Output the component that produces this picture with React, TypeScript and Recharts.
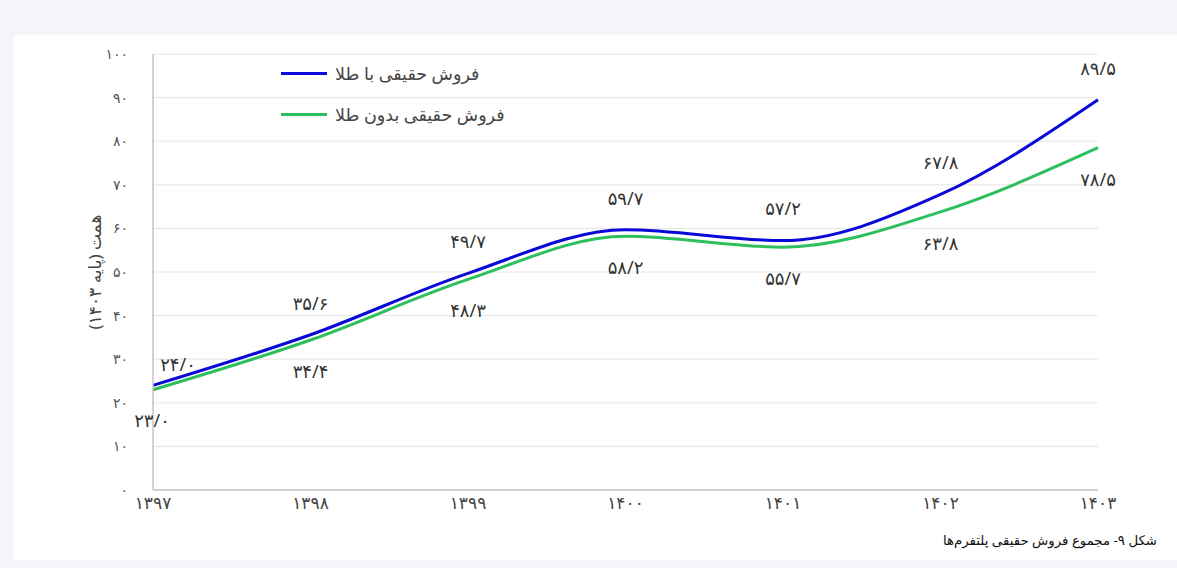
import React from "react";
import { LineChart, Line, XAxis, YAxis, CartesianGrid, LabelList } from "recharts";

const years = ["1397", "1398", "1399", "1400", "1401", "1402", "1403"];
const withGold = [24.0, 35.6, 49.7, 59.7, 57.2, 67.8, 89.5];
const withoutGold = [23.0, 34.4, 48.3, 58.2, 55.7, 63.8, 78.5];
const yTicks = [0, 10, 20, 30, 40, 50, 60, 70, 80, 90, 100];

const data = years.map((y, i) => ({ year: y, gold: withGold[i], noGold: withoutGold[i] }));

const FONT = "'Noto Sans', 'DejaVu Sans', sans-serif";
const BLUE = "#0a0ad8";
const GREEN = "#2cbf5b";

function fa(s: string) {
  return s.replace(/\d/g, (d) => "۰۱۲۳۴۵۶۷۸۹"[Number(d)]);
}

function fmt(v: number) {
  return fa(v.toFixed(1).replace(".", "/"));
}

function makeLabel(above: boolean) {
  return (props: any) => {
    const { x, y, value, index } = props;
    let dx = 0;
    let dy = above ? -30 : 33;
    if (index === 0) {
      dx = above ? 25 : -1;
      dy = above ? -19 : 32;
    }
    return (
      <text
        x={x + dx}
        y={y + dy}
        textAnchor="middle"
        dominantBaseline="middle"
        fontSize={18}
        fill="#333"
        fontFamily={FONT}
      >
        {fmt(value)}
      </text>
    );
  };
}

function LegendBox() {
  const items = [
    { color: BLUE, text: "فروش حقیقی با طلا", top: 0 },
    { color: GREEN, text: "فروش حقیقی بدون طلا", top: 41 },
  ];
  return (
    <div style={{ position: "absolute", left: 281, top: 60, width: 280, height: 70 }}>
      {items.map((it) => (
        <div key={it.text} style={{ position: "absolute", left: 0, top: it.top, display: "flex", alignItems: "center", height: 26 }}>
          <div style={{ width: 46, height: 3, background: it.color }} />
          <span style={{ marginLeft: 8, fontSize: 17.5, color: "#444", fontFamily: FONT, direction: "rtl" }}>{it.text}</span>
        </div>
      ))}
    </div>
  );
}

export default function App() {
  return (
    <div style={{ position: "fixed", left: 0, top: 0, width: 1177, height: 568, background: "#f3f5fa", overflow: "hidden" }}>
      <div style={{ position: "absolute", left: 14, top: 35, width: 1163, height: 525, background: "#fff" }} />
      <div style={{ position: "absolute", left: 0, top: 0 }}>
        <LineChart width={1177} height={568} data={data} margin={{ top: 54, right: 79, bottom: 48, left: 93 }}>
          <CartesianGrid vertical={false} stroke="#e4e4e4" />
          <XAxis
            dataKey="year"
            tickFormatter={(v) => fa(v)}
            tickSize={0}
            tickMargin={7}
            height={30}
            axisLine={{ stroke: "#c4c4c4", strokeWidth: 1.5 }}
            tick={{ fontSize: 17, fill: "#444", fontFamily: FONT }}
          />
          <YAxis
            domain={[0, 100]}
            ticks={yTicks}
            tickFormatter={(v) => fa(String(v))}
            width={60}
            tickSize={0}
            tickMargin={25}
            axisLine={{ stroke: "#c4c4c4", strokeWidth: 1.5 }}
            tick={{ fontSize: 14, fill: "#555", fontFamily: FONT }}
            label={{
              value: "همت (پایه ۱۴۰۳)",
              angle: -90,
              position: "insideLeft",
              offset: 2,
              style: { fontSize: 17, fill: "#444", fontFamily: FONT, textAnchor: "middle" },
            }}
          />
          <Line
            type="monotone"
            dataKey="gold"
            stroke={BLUE}
            strokeWidth={3}
            dot={false}
            isAnimationActive={false}
          >
            <LabelList dataKey="gold" content={makeLabel(true)} />
          </Line>
          <Line
            type="monotone"
            dataKey="noGold"
            stroke={GREEN}
            strokeWidth={3}
            dot={false}
            isAnimationActive={false}
          >
            <LabelList dataKey="noGold" content={makeLabel(false)} />
          </Line>
        </LineChart>
      </div>
      <LegendBox />
      <div
        style={{
          position: "absolute",
          right: 20,
          top: 531,
          fontSize: 13.3,
          color: "#111",
          fontFamily: FONT,
          direction: "rtl",
        }}
      >
        شکل ۹- مجموع فروش حقیقی پلتفرم‌ها
      </div>
    </div>
  );
}
